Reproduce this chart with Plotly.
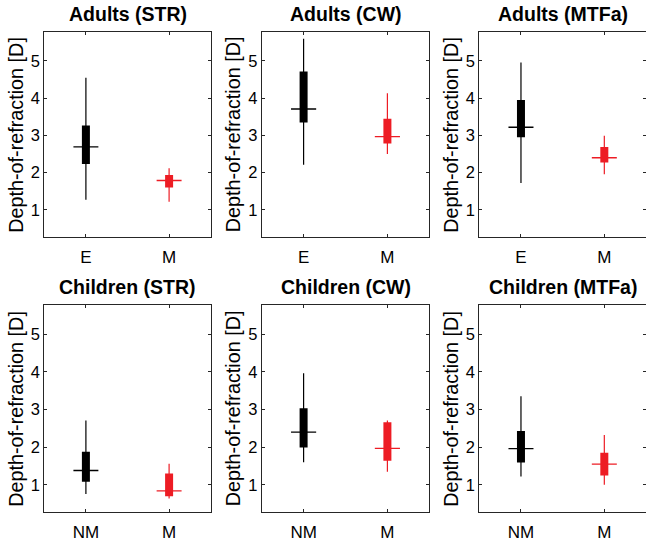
import plotly.graph_objects as go

# ---------------- data ----------------
titles = ["Adults (STR)", "Adults (CW)", "Adults (MTFa)",
          "Children (STR)", "Children (CW)", "Children (MTFa)"]
groups_adults = ["E", "M"]
groups_children = ["NM", "M"]
panel_groups = [groups_adults] * 3 + [groups_children] * 3

whisker_low = [[1.27, 1.22], [2.21, 2.50], [1.72, 1.96],
               [0.76, 0.64], [1.60, 1.35], [1.22, 1.00]]
q1 = [[2.23, 1.60], [3.35, 2.78], [2.95, 2.27],
      [1.08, 0.70], [1.99, 1.64], [1.59, 1.25]]
median = [[2.69, 1.79], [3.71, 2.97], [3.22, 2.40],
          [1.38, 0.84], [2.40, 1.97], [1.96, 1.55]]
q3 = [[3.27, 1.94], [4.72, 3.45], [3.95, 2.69],
      [1.88, 1.30], [3.03, 2.66], [2.43, 1.85]]
whisker_high = [[4.55, 2.12], [5.60, 4.13], [4.96, 2.99],
                [2.71, 1.56], [3.96, 2.71], [3.35, 2.32]]

y_ticks = [1, 2, 3, 4, 5]
y_label = "Depth-of-refraction [D]"

# ---------------- style ----------------
W, H = 646, 542
colors = ["#000000", "rgb(237,28,36)"]
FONT = "Liberation Sans, Arial, Helvetica, sans-serif"
AX = "#262626"
col_px = [(44.3, 210.7), (261.7, 429.3), (479.3, 646.0)]
row_px = [(32.3, 236.7), (305.0, 512.0)]
med_half = 0.15

fig = go.Figure()
annotations = []
for p in range(6):
    r, c = divmod(p, 3)
    idx = "" if p == 0 else str(p + 1)
    xa, ya = "x" + idx, "y" + idx
    for g in range(2):
        xpos = g + 1
        col = colors[g]
        # whisker
        fig.add_trace(go.Scatter(x=[xpos, xpos], y=[whisker_low[p][g], whisker_high[p][g]],
                                 mode="lines", line=dict(color=col, width=1.2),
                                 xaxis=xa, yaxis=ya, showlegend=False, hoverinfo="skip"))
        # box
        fig.add_trace(go.Scatter(x=[xpos, xpos], y=[q1[p][g], q3[p][g]],
                                 mode="lines", line=dict(color=col, width=8),
                                 xaxis=xa, yaxis=ya, showlegend=False, hoverinfo="skip"))
        # median
        fig.add_trace(go.Scatter(x=[xpos - med_half, xpos + med_half],
                                 y=[median[p][g], median[p][g]],
                                 mode="lines", line=dict(color=col, width=1.3),
                                 xaxis=xa, yaxis=ya, showlegend=False, hoverinfo="skip"))
    x0, x1 = col_px[c]
    y0, y1 = row_px[r]
    axis_common = dict(showline=True, mirror="allticks", ticks="inside", ticklen=3,
                       tickwidth=1, tickcolor=AX, linecolor=AX, linewidth=1,
                       showgrid=False, zeroline=False)
    fig.update_layout(**{
        "xaxis" + idx: dict(domain=[x0 / W, min(x1 / W, 1.0)], anchor=ya,
                            range=[0.5, 2.5], tickvals=[1, 2], ticktext=panel_groups[p],
                            ticklabelstandoff=5,
                            tickfont=dict(family=FONT, size=17, color="#000000"),
                            **axis_common),
        "yaxis" + idx: dict(domain=[1 - y1 / H, 1 - y0 / H], anchor=xa,
                            range=[0.28, 5.77], tickvals=y_ticks,
                            ticktext=[str(v) for v in y_ticks],
                            tickfont=dict(family=FONT, size=16.5, color="#000000"),
                            **axis_common),
    })
    annotations.append(dict(text="<b>" + titles[p] + "</b>", xref="paper", yref="paper",
                            x=(x0 + min(x1, 646.0)) / 2 / W, y=1 - (y0 - 5) / H,
                            xanchor="center", yanchor="bottom", showarrow=False,
                            font=dict(family=FONT, size=19.5, color="#000000")))
    annotations.append(dict(text=y_label, xref="paper", yref="paper",
                            x=(x0 - 29) / W, y=1 - (y0 + y1) / 2 / H,
                            xanchor="center", yanchor="middle", textangle=-90,
                            showarrow=False,
                            font=dict(family=FONT, size=19.8, color="#000000")))

fig.update_layout(width=W, height=H, margin=dict(l=0, r=0, t=0, b=0),
                  paper_bgcolor="white", plot_bgcolor="white",
                  annotations=annotations, showlegend=False)
fig.write_html("out.html")
